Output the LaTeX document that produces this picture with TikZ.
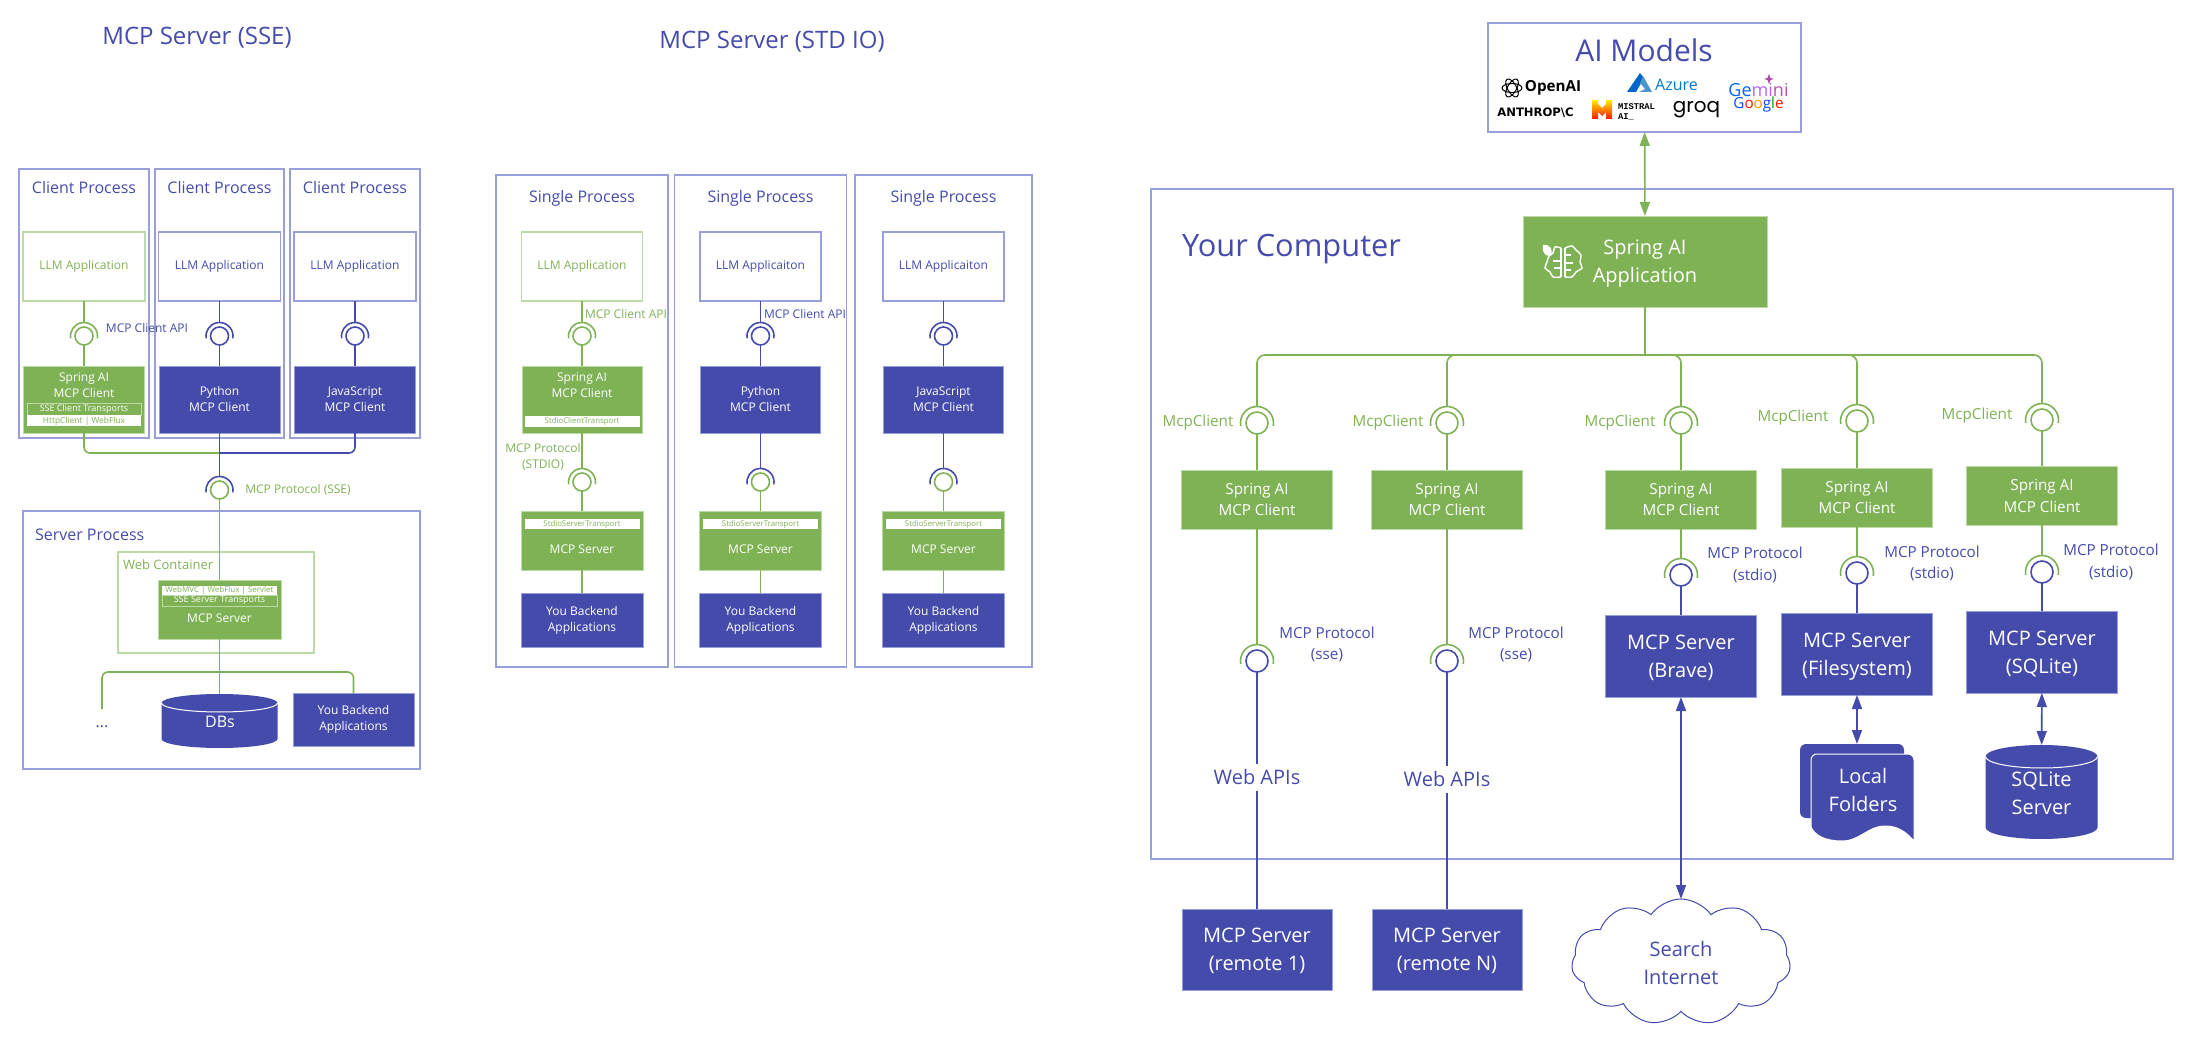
\documentclass[tikz,border=0pt]{standalone}
\usepackage{fontspec}
\setmainfont{Open Sans}
\newfontfamily\anthfont{DejaVu Sans}
\newfontfamily\mistfont{Liberation Mono}
\newfontfamily\groqfont{Poppins}
\usetikzlibrary{arrows.meta,shapes.symbols}

\definecolor{mcpblue}{HTML}{444BAA}
\definecolor{mcpgreen}{HTML}{7FB254}
\definecolor{boxline}{HTML}{9A9FDB}
\definecolor{lightgreen}{HTML}{BBDAA5}

\tikzset{
    sz/.style 2 args={minimum width=(#1)*0.5pt,minimum height=(#2)*0.5pt},
    every node/.style={inner sep=0pt,outer sep=0pt,align=center},
    tiny/.style={font=\fontsize{4.2}{5}\selectfont},
    sml/.style={font=\fontsize{6}{8}\selectfont},
    mid/.style={font=\fontsize{7.6}{10.8}\selectfont},
    hed/.style={font=\fontsize{8}{10}\selectfont,text depth=0pt},
    big/.style={font=\fontsize{10}{14}\selectfont,text depth=0pt},
    gbox/.style={fill=mcpgreen,draw=lightgreen,line width=0.4pt,text=white},
    bbox/.style={fill=mcpblue,draw=boxline,line width=0.4pt,text=white},
    gframe/.style={draw=lightgreen,line width=0.6pt,text=mcpgreen},
    bframe/.style={draw=boxline,line width=0.6pt,text=mcpblue},
    strip/.style={fill=white,text=mcpgreen,tiny},
    gtxt/.style={text=mcpgreen},
    btxt/.style={text=mcpblue},
    gline/.style={draw=mcpgreen,line width=0.8pt},
    bline/.style={draw=mcpblue,line width=0.8pt},
    brainline/.style={draw=white,line width=0.7pt},
    both/.style={{Triangle[length=7pt,width=5pt]}-{Triangle[length=7pt,width=5pt]}},
    ring/.style={circle,line width=0.8pt}
}

% socket: name, x, y, radius, ring colour, arc colour
\newcommand{\socket}[6]{
    \node[ring,draw=#5,minimum size=#4*1pt] (#1) at (#2,#3) {};
    \coordinate (#1t) at (#2,#3-1.5*#4);
    \draw[draw=#6,line width=0.8pt] (#2,#3) ++(170:1.5*#4) arc[start angle=170,end angle=370,radius=1.5*#4];
}
% drum: name, x, top, bottom, x radius, y radius
\newcommand{\drum}[6]{
    \fill[mcpblue] (#2-#5,#3+#6) arc[start angle=180,end angle=360,x radius=#5,y radius=#6]
        -- (#2+#5,#4-#6) arc[start angle=0,end angle=180,x radius=#5,y radius=#6] -- cycle;
    \draw[white,line width=0.5pt] (#2-#5,#3+#6) arc[start angle=180,end angle=0,x radius=#5,y radius=#6];
    \node[sz={2*#5}{#4-#3}] (#1) at (#2,#3/2+#4/2) {};
}

\begin{document}
\begin{tikzpicture}[x=0.5pt,y=-0.5pt]

    \useasboundingbox (0,0) rectangle (2197,1037);

    % MCP Server (SSE)
    \node[btxt,font=\fontsize{12}{14}\selectfont] (t1) at (197,38) {MCP Server (SSE)};

    \node[bframe,sz={130}{269}] (p1) at (84,303.5) {};
    \node[bframe,sz={129}{269}] (p2) at (219.5,303.5) {};
    \node[bframe,sz={130}{269}] (p3) at (355,303.5) {};
    \node[btxt,hed] (h1) at (84,187.5) {Client Process};
    \node[btxt,hed] (h2) at (219.5,187.5) {Client Process};
    \node[btxt,hed] (h3) at (355,187.5) {Client Process};

    \node[gframe,sml,sz={122}{69}] (l1) at (84,266.5) {LLM Application};
    \node[bframe,sml,sz={122}{69}] (l2) at (219.5,266.5) {LLM Application};
    \node[bframe,sml,sz={122}{69}] (l3) at (355,266.5) {LLM Application};

    \socket{s1}{84}{336}{9}{mcpgreen}{mcpgreen}
    \socket{s2}{219.5}{336}{9}{mcpblue}{mcpblue}
    \socket{s3}{355}{336}{9}{mcpblue}{mcpblue}

    \node[gbox,sz={121}{67}] (c1) at (84,399.5) {};
    \node[text=white,sml] (c1a) at (84,385) {Spring AI\\MCP Client};
    \node[draw=lightgreen,line width=0.4pt,text=white,font=\fontsize{4.5}{5}\selectfont,sz={114}{12}] (c1b) at (84,409) {SSE Client Transports};
    \node[strip,sz={114}{11}] (c1c) at (84,421) {HttpClient | WebFlux};
    \node[bbox,sml,sz={121}{67}] (c2) at (219.5,399.5) {Python\\MCP Client};
    \node[bbox,sml,sz={121}{67}] (c3) at (355,399.5) {JavaScript\\MCP Client};

    \draw[gline] (l1) -- (s1t);
    \draw[bline] (l2) -- (s2t);
    \draw[bline] (l3) -- (s3t);
    \draw[gline] (s1) -- (c1);
    \draw[bline] (s2) -- (c2);
    \draw[bline] (s3) -- (c3);

    \node[btxt,sml] (a1) at (147,328) {MCP Client API};

    \socket{s7}{219.5}{490}{9}{mcpgreen}{mcpblue}
    \coordinate (j1) at (219.5,453);
    \draw[gline,rounded corners=3] (c1) |- (j1);
    \draw[bline,rounded corners=3] (c3) |- (j1);
    \draw[bline] (c2) -- (s7t);
    \node[gtxt,sml] (a2) at (298,490) {MCP Protocol (SSE)};

    \node[bframe,sz={397}{258}] (p7) at (221.5,640) {};
    \node[btxt,hed,anchor=west] (h7) at (35,535) {Server Process};
    \node[gframe,sz={196}{101}] (w0) at (216,602.5) {};
    \node[gtxt,anchor=west,font=\fontsize{6.5}{8}\selectfont] (w0t) at (123,565) {Web Container};
    \node[gbox,sz={123}{59}] (v0) at (219.5,609.5) {};
    \node[strip,font=\fontsize{4}{5}\selectfont,sz={115}{9}] (v0a) at (219.5,590.5) {WebMVC | WebFlux | Servlet};
    \node[draw=lightgreen,line width=0.4pt,text=white,font=\fontsize{4.5}{5}\selectfont,sz={115}{11}] (v0b) at (219.5,600.5) {SSE Server Transports};
    \node[text=white,sml] (v0c) at (219.5,618) {MCP Server};
    \draw[gline] (s7) -- (v0);

    \drum{d1}{219.5}{694}{748}{58}{9}
    \node[text=white,hed] (d1t) at (220,722) {DBs};
    \node[bbox,sml,sz={121}{53}] (b0) at (353.5,719.5) {You Backend\\Applications};
    \coordinate (j2) at (219.5,672);
    \coordinate (e0) at (102,709);
    \node[btxt,hed] (e1) at (102,727) {...};
    \draw[gline] (v0) -- (d1);
    \draw[gline,rounded corners=3] (j2) -| (e0);
    \draw[gline,rounded corners=3] (j2) -| (b0);

    % MCP Server (STD IO)
    \node[btxt,font=\fontsize{12}{14}\selectfont] (t2) at (772,42) {MCP Server (STD IO)};

    \node[bframe,sz={172}{492}] (p4) at (582,421) {};
    \node[bframe,sz={172}{492}] (p5) at (760.5,421) {};
    \node[bframe,sz={177}{492}] (p6) at (943.5,421) {};
    \node[btxt,hed] (h4) at (582,196) {Single Process};
    \node[btxt,hed] (h5) at (760.5,196) {Single Process};
    \node[btxt,hed] (h6) at (943.5,196) {Single Process};

    \node[gframe,sml,sz={121}{69}] (l4) at (582,266.5) {LLM Application};
    \node[bframe,sml,sz={121}{69}] (l5) at (760.5,266.5) {LLM Applicaiton};
    \node[bframe,sml,sz={121}{69}] (l6) at (943.5,266.5) {LLM Applicaiton};

    \socket{s4}{582}{336}{9}{mcpgreen}{mcpgreen}
    \socket{s5}{760.5}{336}{9}{mcpblue}{mcpblue}
    \socket{s6}{943.5}{336}{9}{mcpblue}{mcpblue}

    \node[gbox,sz={120}{67}] (c4) at (582,399.5) {};
    \node[text=white,sml] (c4a) at (582,385.5) {Spring AI\\MCP Client};
    \node[strip,font=\fontsize{3.9}{5}\selectfont,sz={115}{11}] (c4b) at (582,421.5) {StdioClientTransport};
    \node[bbox,sml,sz={120}{67}] (c5) at (760.5,399.5) {Python\\MCP Client};
    \node[bbox,sml,sz={120}{67}] (c6) at (943.5,399.5) {JavaScript\\MCP Client};

    \socket{u4}{582}{482}{9}{mcpgreen}{mcpgreen}
    \socket{u5}{760.5}{482}{9}{mcpgreen}{mcpblue}
    \socket{u6}{943.5}{482}{9}{mcpgreen}{mcpblue}

    \node[gbox,sz={122}{59}] (v4) at (582,540.5) {};
    \node[gbox,sz={122}{59}] (v5) at (760.5,540.5) {};
    \node[gbox,sz={122}{59}] (v6) at (943.5,540.5) {};
    \node[strip,font=\fontsize{3.9}{5}\selectfont,sz={115}{10}] (v4a) at (582,524) {StdioServerTransport};
    \node[strip,font=\fontsize{3.9}{5}\selectfont,sz={115}{10}] (v5a) at (760.5,524) {StdioServerTransport};
    \node[strip,font=\fontsize{3.9}{5}\selectfont,sz={115}{10}] (v6a) at (943.5,524) {StdioServerTransport};
    \node[text=white,sml] (v4b) at (582,549) {MCP Server};
    \node[text=white,sml] (v5b) at (760.5,549) {MCP Server};
    \node[text=white,sml] (v6b) at (943.5,549) {MCP Server};

    \node[bbox,sml,sz={122}{54}] (b4) at (582,620) {You Backend\\Applications};
    \node[bbox,sml,sz={122}{54}] (b5) at (760.5,620) {You Backend\\Applications};
    \node[bbox,sml,sz={122}{54}] (b6) at (943.5,620) {You Backend\\Applications};

    \draw[gline] (l4) -- (s4t);
    \draw[bline] (l5) -- (s5t);
    \draw[bline] (l6) -- (s6t);
    \draw[gline] (s4) -- (c4);
    \draw[bline] (s5) -- (c5);
    \draw[bline] (s6) -- (c6);
    \draw[gline] (c4) -- (u4t);
    \draw[bline] (c5) -- (u5t);
    \draw[bline] (c6) -- (u6t);
    \draw[gline] (u4) -- (v4);
    \draw[gline] (u5) -- (v5);
    \draw[gline] (u6) -- (v6);
    \draw[gline] (v4) -- (b4);
    \draw[gline] (v5) -- (b5);
    \draw[gline] (v6) -- (b6);

    \node[gtxt,sml] (a4) at (626,314) {MCP Client API};
    \node[btxt,sml] (a5) at (805,314) {MCP Client API};
    \node[gtxt,sml] (a6) at (543,456.5) {MCP Protocol\\(STDIO)};

    % AI Models
    \node[bframe,sz={313}{109}] (m0) at (1644.5,77.5) {};
    \node[btxt,font=\fontsize{15}{18}\selectfont] (m0t) at (1644,50) {AI Models};
    \node[black,font=\fontsize{7.6}{8}\selectfont\bfseries] (o1) at (1553,88) {OpenAI};
    \draw[black,line width=0.5pt] (1512,88) ellipse[x radius=10,y radius=4.5];
    \draw[black,line width=0.5pt,rotate around={60:(1512,88)}] (1512,88) ellipse[x radius=10,y radius=4.5];
    \draw[black,line width=0.5pt,rotate around={120:(1512,88)}] (1512,88) ellipse[x radius=10,y radius=4.5];
    \node[black,font=\fontsize{5.8}{7}\selectfont\anthfont\bfseries] (o2) at (1535.5,113) {ANTHROP\textbackslash C};
    \shade[top color=yellow!85!orange,bottom color=red!85!orange] (1592,100) -- (1598,100) -- (1598,104) -- (1602,108) -- (1606,104) -- (1606,100) -- (1612,100) -- (1612,119) -- (1606,119) -- (1606,112) -- (1602,116) -- (1598,112) -- (1598,119) -- (1592,119) -- cycle;
    \node[black,anchor=west,font=\fontsize{4.4}{5}\selectfont\mistfont\bfseries] (o3) at (1618,107) {MISTRAL};
    \node[black,anchor=west,font=\fontsize{4.4}{5}\selectfont\mistfont\bfseries] (o4) at (1618,117) {AI\_};
    \fill[blue!50!cyan!80!black] (1627,92) -- (1636,92) -- (1644,78) -- (1640,73) -- cycle;
    \fill[blue!40!cyan!70!black!70] (1639,92) -- (1652,92) -- (1643,76) -- (1640,83) -- (1645,89) -- cycle;
    \node[text=blue!40!cyan!80!black,font=\fontsize{8}{9}\selectfont] (o5) at (1676.5,85) {Azure};
    \node[black,font=\fontsize{10}{11}\selectfont\groqfont] (o6) at (1696.5,110) {groq};
    \node[font=\fontsize{9}{10}\selectfont] (o7) at (1758.5,90) {\textcolor{blue!60!cyan}{Ge}\textcolor{blue!50!magenta!60}{mi}\textcolor{magenta!60!blue!70}{ni}};
    \node[font=\fontsize{7.6}{9}\selectfont] (o8) at (1758.5,105) {\textcolor{blue!70!cyan}{G}\textcolor{red!80!orange}{o}\textcolor{orange!80!yellow}{o}\textcolor{blue!70!cyan}{g}\textcolor{green!60!black}{l}\textcolor{red!80!orange}{e}};
    \fill[violet!70] (1769,74) -- (1770.5,78) -- (1774,79) -- (1770.5,80) -- (1769,84) -- (1767.5,80) -- (1764,79) -- (1767.5,78) -- cycle;

    % Your Computer
    \node[bframe,sz={1022}{670}] (y0) at (1662,524) {};
    \node[btxt,anchor=west,font=\fontsize{15.4}{18}\selectfont] (y0t) at (1182,249) {Your Computer};
    \node[gbox,big,sz={244}{91}] (app) at (1645,261.5) {Spring AI\\Application};
    \draw[brainline] plot[smooth] coordinates {(1565,248) (1572,246) (1576,250) (1581,255) (1580,262) (1582,268) (1576,272) (1572,277) (1565,277)};
    \draw[brainline] plot[smooth] coordinates {(1561,248) (1555,247) (1553,253) (1549,256) (1547,262) (1545,268) (1550,272) (1553,277) (1561,277)};
    \draw[brainline] (1561,248) -- (1561,277);
    \draw[brainline] (1565,248) -- (1565,277);
    \draw[brainline] (1565,255) -- (1571,255);
    \draw[brainline] (1565,263) -- (1573,263);
    \draw[brainline] (1565,270) -- (1571,270);
    \draw[brainline] (1561,261) -- (1553,261);
    \draw[brainline] (1561,268) -- (1554,268);
    \fill[white] (1543,245) .. controls (1551,244) and (1553,250) .. (1551,256) .. controls (1544,256) and (1542,252) .. cycle;
    \draw[gline,both] (m0) -- (app);

    \coordinate (bus) at (1645,355);

    \socket{s8}{1257}{423}{11}{mcpgreen}{mcpgreen}
    \socket{s9}{1447}{423}{11}{mcpgreen}{mcpgreen}
    \socket{s10}{1681}{423}{11}{mcpgreen}{mcpgreen}
    \socket{s11}{1857}{421}{11}{mcpgreen}{mcpgreen}
    \socket{s12}{2042}{420}{11}{mcpgreen}{mcpgreen}
    \draw[gline] (app) -- (bus);
    \draw[gline,rounded corners=4] (bus) -| (s8t);
    \draw[gline,rounded corners=4] (bus) -| (s9t);
    \draw[gline,rounded corners=4] (bus) -| (s10t);
    \draw[gline,rounded corners=4] (bus) -| (s11t);
    \draw[gline,rounded corners=4] (bus) -| (s12t);

    \node[gtxt,mid] (a8) at (1198,423) {McpClient};
    \node[gtxt,mid] (a9) at (1388,423) {McpClient};
    \node[gtxt,mid] (a10) at (1620,423) {McpClient};
    \node[gtxt,mid] (a11) at (1793,418) {McpClient};
    \node[gtxt,mid] (a12) at (1977,416) {McpClient};

    \node[gbox,mid,sz={151}{59}] (c8) at (1257,499.5) {Spring AI\\MCP Client};
    \node[gbox,mid,sz={151}{59}] (c9) at (1447,499.5) {Spring AI\\MCP Client};
    \node[gbox,mid,sz={151}{59}] (c10) at (1681,499.5) {Spring AI\\MCP Client};
    \node[gbox,mid,sz={151}{59}] (c11) at (1857,497.5) {Spring AI\\MCP Client};
    \node[gbox,mid,sz={151}{59}] (c12) at (2042,496) {Spring AI\\MCP Client};
    \draw[gline] (s8) -- (c8);
    \draw[gline] (s9) -- (c9);
    \draw[gline] (s10) -- (c10);
    \draw[gline] (s11) -- (c11);
    \draw[gline] (s12) -- (c12);

    \socket{u8}{1257}{661}{11}{mcpblue}{mcpgreen}
    \socket{u9}{1447}{661}{11}{mcpblue}{mcpgreen}
    \socket{u10}{1681}{575}{11}{mcpblue}{mcpgreen}
    \socket{u11}{1857}{573}{11}{mcpblue}{mcpgreen}
    \socket{u12}{2042}{572}{11}{mcpblue}{mcpgreen}
    \draw[gline] (c8) -- (u8t);
    \draw[gline] (c9) -- (u9t);
    \draw[gline] (c10) -- (u10t);
    \draw[gline] (c11) -- (u11t);
    \draw[gline] (c12) -- (u12t);

    \node[btxt,mid] (a13) at (1327,644.5) {MCP Protocol\\(sse)};
    \node[btxt,mid] (a14) at (1516,644.5) {MCP Protocol\\(sse)};
    \node[btxt,mid] (a15) at (1755,565) {MCP Protocol\\(stdio)};
    \node[btxt,mid] (a16) at (1932,563.5) {MCP Protocol\\(stdio)};
    \node[btxt,mid] (a17) at (2111,562) {MCP Protocol\\(stdio)};

    \node[btxt,big,sz={90}{27}] (w1) at (1257,777) {Web APIs};
    \node[btxt,big,sz={90}{27}] (w2) at (1447,779) {Web APIs};
    \node[bbox,big,sz={150}{81}] (r1) at (1257,949.5) {MCP Server\\(remote 1)};
    \node[bbox,big,sz={150}{81}] (r2) at (1447,949.5) {MCP Server\\(remote N)};
    \draw[bline] (u8) -- (w1);
    \draw[bline] (u9) -- (w2);
    \draw[bline] (w1) -- (r1);
    \draw[bline] (w2) -- (r2);

    \node[bbox,big,sz={151}{82}] (r3) at (1681,656) {MCP Server\\(Brave)};
    \node[bbox,big,sz={151}{82}] (r4) at (1857,654) {MCP Server\\(Filesystem)};
    \node[bbox,big,sz={151}{82}] (r5) at (2042,652) {MCP Server\\(SQLite)};
    \draw[bline] (u10) -- (r3);
    \draw[bline] (u11) -- (r4);
    \draw[bline] (u12) -- (r5);

    \node[cloud,cloud puffs=11,cloud puff arc=110,aspect=1.7,draw=mcpblue,line width=0.5pt,fill=white,sz={219}{126}] (n1) at (1681,962) {};
    \node[btxt,big] (n1t) at (1681,963) {Search\\Internet};

    \fill[mcpblue,rounded corners=3] (1800,744) rectangle (1904,818);
    \draw[white,fill=mcpblue,line width=0.5pt] (1811,827) [rounded corners=3] -- (1811,754) -- (1914,754) [sharp corners] -- (1914,841) .. controls (1906,832) and (1898,826) .. (1885,826) .. controls (1868,826) and (1860,841) .. (1842,841) .. controls (1826,841) and (1815,836) .. (1811,827) -- cycle;
    \node[sz={114}{97}] (f1) at (1857,792.5) {};
    \node[text=white,big] (f1t) at (1863,790) {Local\\Folders};

    \drum{d2}{2041.5}{745}{839}{56}{11.5}
    \node[text=white,big] (d2t) at (2041.5,793) {SQLite\\Server};

    \draw[bline,both] (r3) -- (n1.north);
    \draw[bline,both] (r4) -- (f1);
    \draw[bline,both] (r5) -- (d2);

\end{tikzpicture}
\end{document}
